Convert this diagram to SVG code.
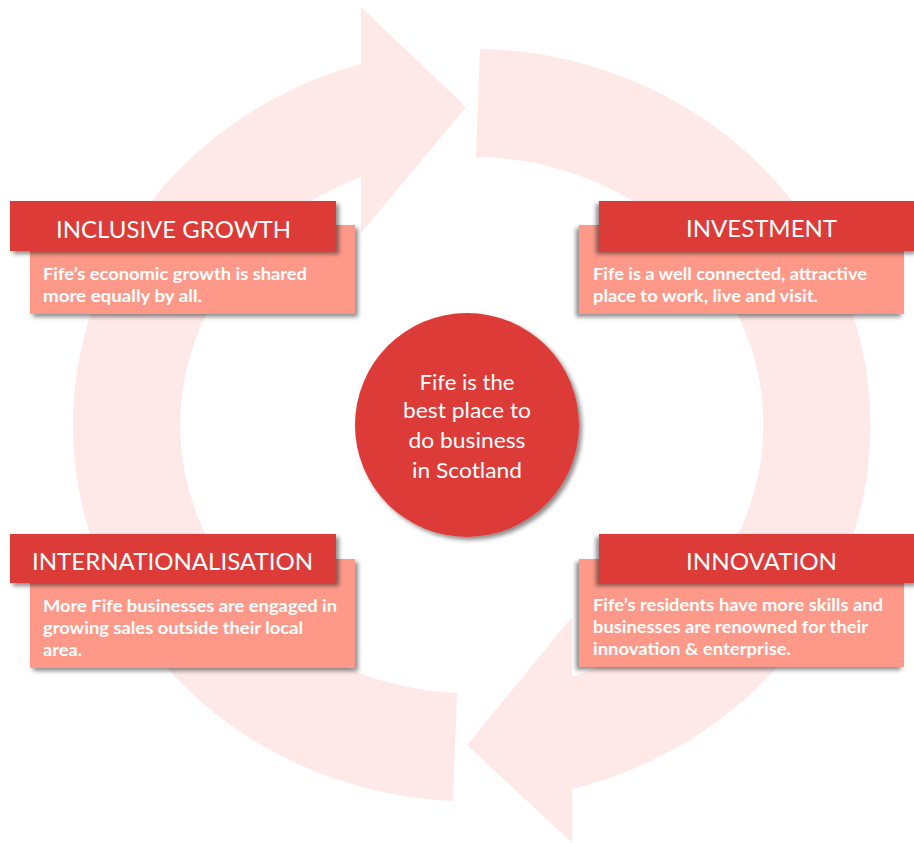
<svg xmlns="http://www.w3.org/2000/svg" width="914" height="843" viewBox="0 0 914 843">
  <style>
    .ring { fill: #FEE9E8; }
    .hdr { fill: #DC3B39; }
    .body { fill: #FE998A; }
    .title { font-family: Lato, "Open Sans", sans-serif; font-size: 23px; font-weight: 400; fill: #FFFFFF; }
    .txt { font-family: Lato, "Open Sans", sans-serif; font-size: 17px; font-weight: 700; fill: #FFFFFF; }
    .ctxt { font-family: Lato, "Open Sans", sans-serif; font-size: 22px; font-weight: 400; fill: #FFFFFF; text-anchor: middle; }
  </style>
  <defs>
    <filter id="shR" x="-10%" y="-20%" width="130%" height="150%">
      <feDropShadow dx="3" dy="3" stdDeviation="2" flood-color="#000" flood-opacity="0.45"/>
    </filter>
    <filter id="shL" x="-10%" y="-20%" width="130%" height="150%">
      <feDropShadow dx="-3" dy="3" stdDeviation="2" flood-color="#000" flood-opacity="0.45"/>
    </filter>
  </defs>
  <rect width="914" height="843" fill="#FFFFFF"/>

  <g id="connectors">
    <!-- Arrow from top, clockwise around the right side, head pointing left at bottom -->
    <path class="ring" d="M480,49 A398,376 0 0 1 572,789 L572,843 L467,745 L572,617 L572,677 A290,268 0 0 0 476,157 Z"/>
    <!-- Arrow from bottom, clockwise around the left side, head pointing right at top -->
    <path class="ring" d="M453,801 A398,376 0 0 1 361,64 L361,7 L466,107 L361,233 L361,177 A290,268 0 0 0 457,693 Z"/>
  </g>

  <g id="inclusive-growth">
    <rect class="body" x="30" y="225" width="325" height="89" filter="url(#shR)"/>
    <rect class="hdr" x="10" y="201" width="326" height="50" filter="url(#shR)"/>
    <text class="title" x="56" y="238" textLength="235" lengthAdjust="spacingAndGlyphs">INCLUSIVE GROWTH</text>
    <text class="txt" x="43" y="280" textLength="264" lengthAdjust="spacingAndGlyphs">Fife’s economic growth is shared</text>
    <text class="txt" x="43" y="302" textLength="159" lengthAdjust="spacingAndGlyphs">more equally by all.</text>
  </g>

  <g id="investment">
    <rect class="body" x="579" y="225" width="325" height="89" filter="url(#shL)"/>
    <rect class="hdr" x="599" y="201" width="320" height="50" filter="url(#shL)"/>
    <text class="title" x="686" y="237" textLength="151" lengthAdjust="spacingAndGlyphs">INVESTMENT</text>
    <text class="txt" x="593" y="280" textLength="274" lengthAdjust="spacingAndGlyphs">Fife is a well connected, attractive</text>
    <text class="txt" x="593" y="302" textLength="225" lengthAdjust="spacingAndGlyphs">place to work, live and visit.</text>
  </g>

  <g id="internationalisation">
    <rect class="body" x="30" y="559" width="325" height="109" filter="url(#shR)"/>
    <rect class="hdr" x="10" y="534" width="326" height="49" filter="url(#shR)"/>
    <text class="title" x="32" y="570" textLength="281" lengthAdjust="spacingAndGlyphs">INTERNATIONALISATION</text>
    <text class="txt" x="43" y="612" textLength="294" lengthAdjust="spacingAndGlyphs">More Fife businesses are engaged in</text>
    <text class="txt" x="43" y="634" textLength="260" lengthAdjust="spacingAndGlyphs">growing sales outside their local</text>
    <text class="txt" x="43" y="656" textLength="39" lengthAdjust="spacingAndGlyphs">area.</text>
  </g>

  <g id="innovation">
    <rect class="body" x="579" y="559" width="325" height="108" filter="url(#shL)"/>
    <rect class="hdr" x="599" y="534" width="320" height="49" filter="url(#shL)"/>
    <text class="title" x="686" y="570" textLength="151" lengthAdjust="spacingAndGlyphs">INNOVATION</text>
    <text class="txt" x="593" y="611" textLength="290" lengthAdjust="spacingAndGlyphs">Fife’s residents have more skills and</text>
    <text class="txt" x="593" y="633" textLength="275" lengthAdjust="spacingAndGlyphs">businesses are renowned for their</text>
    <text class="txt" x="593" y="655" textLength="198" lengthAdjust="spacingAndGlyphs">innovation &amp; enterprise.</text>
  </g>

  <g id="centre">
    <circle cx="467" cy="425" r="112" fill="#DC3B39" filter="url(#shR)"/>
    <text class="ctxt" x="467" y="390" textLength="95" lengthAdjust="spacingAndGlyphs">Fife is the</text>
    <text class="ctxt" x="467" y="418" textLength="128" lengthAdjust="spacingAndGlyphs">best place to</text>
    <text class="ctxt" x="467" y="448" textLength="117" lengthAdjust="spacingAndGlyphs">do business</text>
    <text class="ctxt" x="467" y="478" textLength="110" lengthAdjust="spacingAndGlyphs">in Scotland</text>
  </g>
</svg>
